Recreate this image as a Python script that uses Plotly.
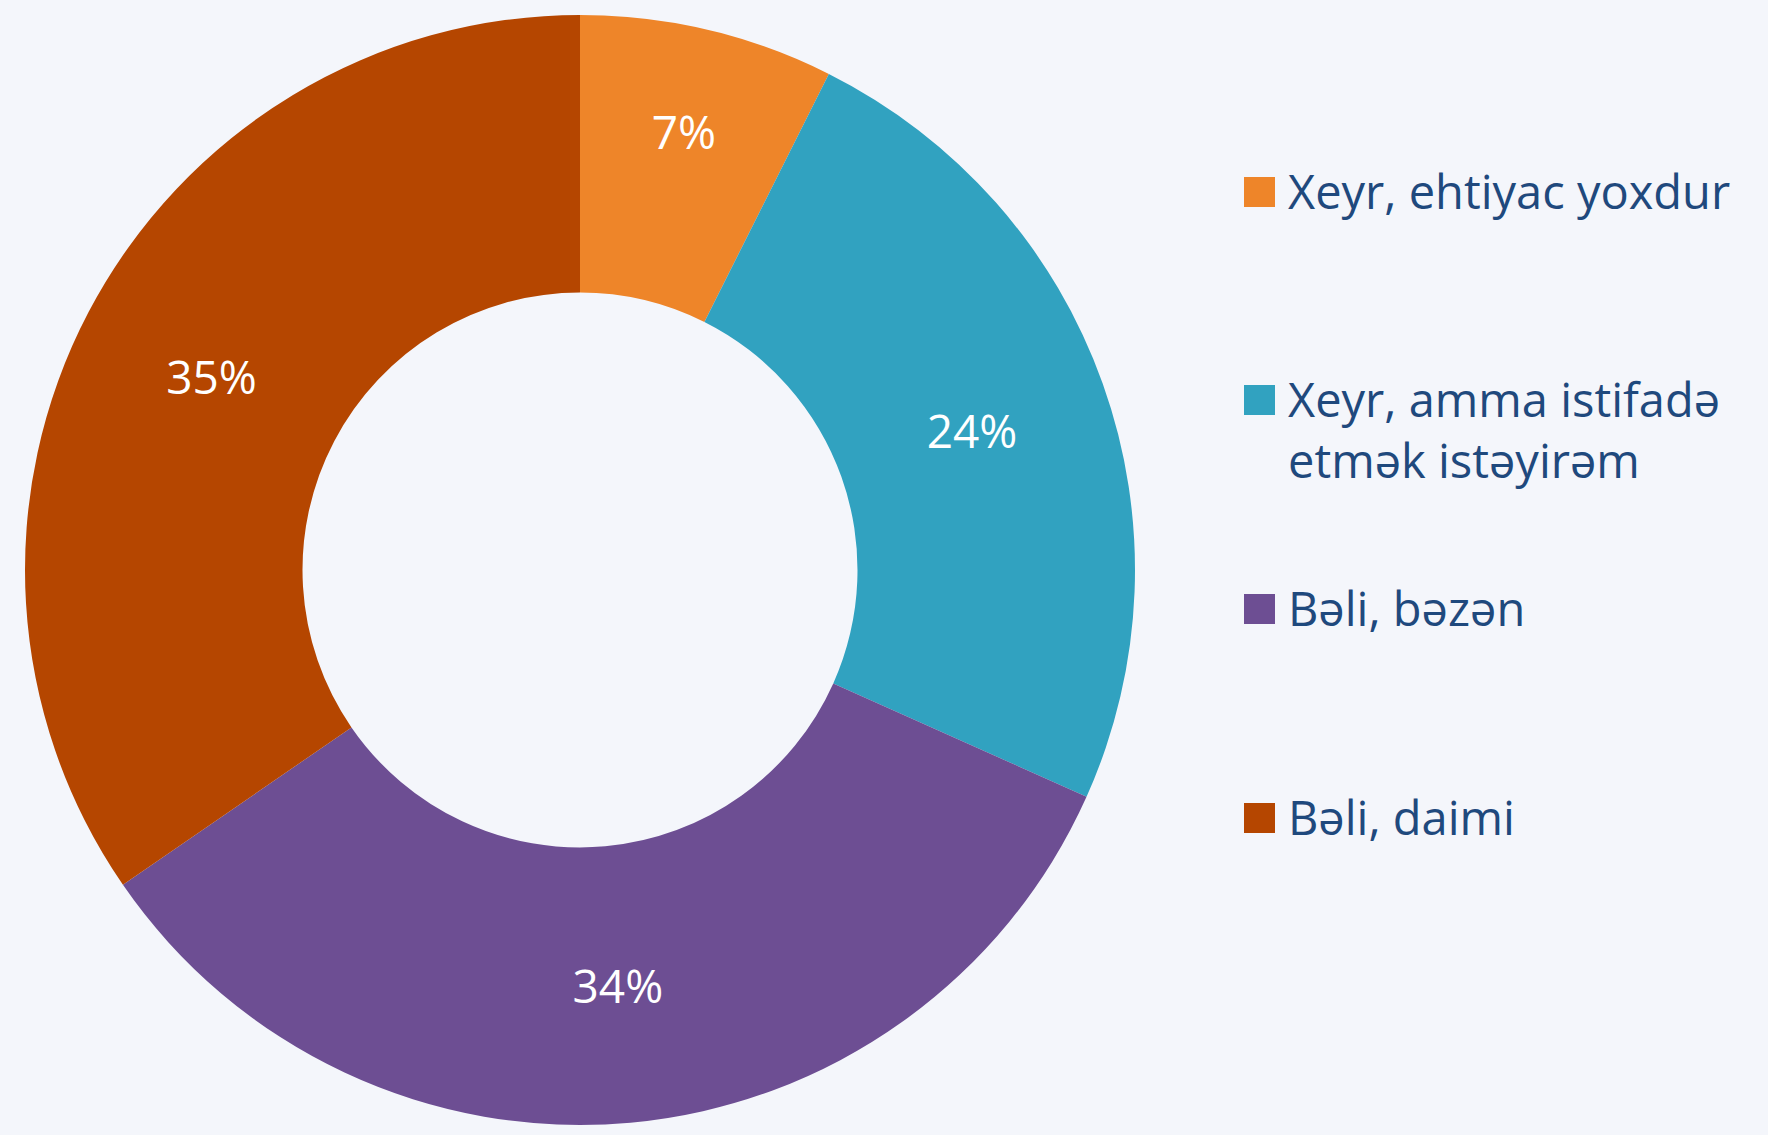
import plotly.graph_objects as go

# ---- data ----
categories = ["Xeyr, ehtiyac yoxdur", "Xeyr, amma istifadə<br>etmək istəyirəm", "Bəli, bəzən", "Bəli, daimi"]
values = [7.4, 24.3, 33.7, 34.6]
colors = ["#EE8529", "#31A2C0", "#6D4E93", "#B54600"]

W, H = 1768, 1135
BG = "#F4F6FB"
TEXT_BLUE = "#1F497D"
FONT = "Open Sans, Noto Sans, sans-serif"

fig = go.Figure()
fig.add_trace(go.Pie(
    labels=categories,
    values=values,
    sort=False,
    direction="clockwise",
    rotation=0,
    hole=0.5,
    marker=dict(colors=colors, line=dict(width=0)),
    texttemplate="%{percent:.0%}",
    textposition="inside",
    insidetextorientation="horizontal",
    insidetextfont=dict(family=FONT, size=46, color="white"),
    domain=dict(x=[25 / W, 1135 / W], y=[1 - 1125 / H, 1 - 15 / H]),
    showlegend=False,
))

# legend drawn from the same category/colour lists
legend_centre_y = [192, 400, 609, 818]  # centre of the first line of each entry (px from top)
shapes = []
annotations = []
for cat, col, yc in zip(categories, colors, legend_centre_y):
    shapes.append(dict(type="rect", xref="paper", yref="paper",
                       x0=1244 / W, x1=1275 / W,
                       y0=1 - (yc + 15) / H, y1=1 - (yc - 15) / H,
                       fillcolor=col, line=dict(width=0)))
    annotations.append(dict(text=cat, xref="paper", yref="paper",
                            x=1286 / W, y=1 - (yc - 35) / H,
                            xanchor="left", yanchor="top", align="left",
                            showarrow=False,
                            font=dict(family=FONT, size=47, color=TEXT_BLUE)))

fig.update_layout(
    width=W, height=H,
    margin=dict(l=0, r=0, t=0, b=0),
    paper_bgcolor=BG, plot_bgcolor=BG,
    shapes=shapes, annotations=annotations,
)

fig.write_html("out.html",
               config={"displayModeBar": False},
               post_script="document.body.style.margin='0';document.body.style.background='%s';" % BG)
